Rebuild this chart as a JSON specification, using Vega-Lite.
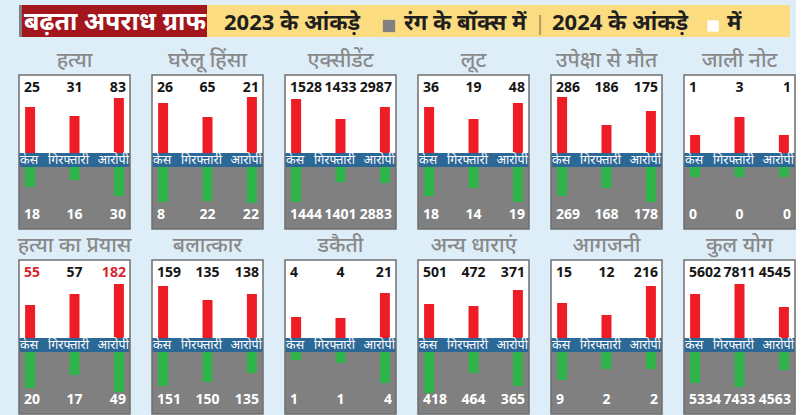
{
  "$schema": "https://vega.github.io/schema/vega-lite/v6.json",
  "background": "#ddeef9",
  "padding": {"left": 17, "top": 5, "right": 0, "bottom": 0},
  "spacing": 13,
  "datasets": {
    "crime": [
      {"crime": "हत्या", "metric": "केस", "y2024": 25, "y2023": 18, "bar2024": 46, "bar2023": 20},
      {"crime": "हत्या", "metric": "गिरफ्तारी", "y2024": 31, "y2023": 16, "bar2024": 37, "bar2023": 13},
      {"crime": "हत्या", "metric": "आरोपी", "y2024": 83, "y2023": 30, "bar2024": 55, "bar2023": 29},
      {"crime": "घरेलू हिंसा", "metric": "केस", "y2024": 26, "y2023": 8, "bar2024": 50, "bar2023": 35},
      {"crime": "घरेलू हिंसा", "metric": "गिरफ्तारी", "y2024": 65, "y2023": 22, "bar2024": 36, "bar2023": 34},
      {"crime": "घरेलू हिंसा", "metric": "आरोपी", "y2024": 21, "y2023": 22, "bar2024": 56, "bar2023": 36},
      {"crime": "एक्सीडेंट", "metric": "केस", "y2024": 1528, "y2023": 1444, "bar2024": 54, "bar2023": 35},
      {"crime": "एक्सीडेंट", "metric": "गिरफ्तारी", "y2024": 1433, "y2023": 1401, "bar2024": 34, "bar2023": 15},
      {"crime": "एक्सीडेंट", "metric": "आरोपी", "y2024": 2987, "y2023": 2883, "bar2024": 46, "bar2023": 16},
      {"crime": "लूट", "metric": "केस", "y2024": 36, "y2023": 18, "bar2024": 46, "bar2023": 29},
      {"crime": "लूट", "metric": "गिरफ्तारी", "y2024": 19, "y2023": 14, "bar2024": 34, "bar2023": 21},
      {"crime": "लूट", "metric": "आरोपी", "y2024": 48, "y2023": 19, "bar2024": 50, "bar2023": 35},
      {"crime": "उपेक्षा से मौत", "metric": "केस", "y2024": 286, "y2023": 269, "bar2024": 56, "bar2023": 29},
      {"crime": "उपेक्षा से मौत", "metric": "गिरफ्तारी", "y2024": 186, "y2023": 168, "bar2024": 28, "bar2023": 21},
      {"crime": "उपेक्षा से मौत", "metric": "आरोपी", "y2024": 175, "y2023": 178, "bar2024": 42, "bar2023": 35},
      {"crime": "जाली नोट", "metric": "केस", "y2024": 1, "y2023": 0, "bar2024": 18, "bar2023": 10},
      {"crime": "जाली नोट", "metric": "गिरफ्तारी", "y2024": 3, "y2023": 0, "bar2024": 36, "bar2023": 10},
      {"crime": "जाली नोट", "metric": "आरोपी", "y2024": 1, "y2023": 0, "bar2024": 18, "bar2023": 10},
      {"crime": "हत्या का प्रयास", "metric": "केस", "y2024": 55, "y2023": 20, "bar2024": 33, "bar2023": 36},
      {"crime": "हत्या का प्रयास", "metric": "गिरफ्तारी", "y2024": 57, "y2023": 17, "bar2024": 44, "bar2023": 23},
      {"crime": "हत्या का प्रयास", "metric": "आरोपी", "y2024": 182, "y2023": 49, "bar2024": 54, "bar2023": 40},
      {"crime": "बलात्कार", "metric": "केस", "y2024": 159, "y2023": 151, "bar2024": 52, "bar2023": 34},
      {"crime": "बलात्कार", "metric": "गिरफ्तारी", "y2024": 135, "y2023": 150, "bar2024": 38, "bar2023": 30},
      {"crime": "बलात्कार", "metric": "आरोपी", "y2024": 138, "y2023": 135, "bar2024": 44, "bar2023": 21},
      {"crime": "डकैती", "metric": "केस", "y2024": 4, "y2023": 1, "bar2024": 21, "bar2023": 8},
      {"crime": "डकैती", "metric": "गिरफ्तारी", "y2024": 4, "y2023": 1, "bar2024": 20, "bar2023": 11},
      {"crime": "डकैती", "metric": "आरोपी", "y2024": 21, "y2023": 4, "bar2024": 45, "bar2023": 31},
      {"crime": "अन्य धाराएं", "metric": "केस", "y2024": 501, "y2023": 418, "bar2024": 34, "bar2023": 41},
      {"crime": "अन्य धाराएं", "metric": "गिरफ्तारी", "y2024": 472, "y2023": 464, "bar2024": 32, "bar2023": 21},
      {"crime": "अन्य धाराएं", "metric": "आरोपी", "y2024": 371, "y2023": 365, "bar2024": 48, "bar2023": 34},
      {"crime": "आगजनी", "metric": "केस", "y2024": 15, "y2023": 9, "bar2024": 35, "bar2023": 28},
      {"crime": "आगजनी", "metric": "गिरफ्तारी", "y2024": 12, "y2023": 2, "bar2024": 23, "bar2023": 17},
      {"crime": "आगजनी", "metric": "आरोपी", "y2024": 216, "y2023": 2, "bar2024": 52, "bar2023": 17},
      {"crime": "कुल योग", "metric": "केस", "y2024": 5602, "y2023": 5334, "bar2024": 44, "bar2023": 31},
      {"crime": "कुल योग", "metric": "गिरफ्तारी", "y2024": 7811, "y2023": 7433, "bar2024": 54, "bar2023": 35},
      {"crime": "कुल योग", "metric": "आरोपी", "y2024": 4545, "y2023": 4563, "bar2024": 31, "bar2023": 18}
    ]
  },
  "vconcat": [
    {
      "width": 771,
      "height": 32,
      "data": {"values": [{"header": "legend"}]},
      "layer": [
        {"mark": {"type": "rect", "fill": "#a3161d"}, "encoding": {"x": {"datum": 3, "type": "quantitative", "scale": {"domain": [0, 771]}, "axis": null}, "x2": {"datum": 188}}},
        {"mark": {"type": "rect", "fill": "#fbdc80"}, "encoding": {"x": {"datum": 188, "type": "quantitative", "scale": {"domain": [0, 771]}, "axis": null}, "x2": {"datum": 771}}},
        {"mark": {"type": "text", "text": "बढ़ता अपराध ग्राफ", "color": "#ffffff", "fontSize": 25, "fontWeight": "bold", "align": "center", "baseline": "middle"},
         "encoding": {"x": {"datum": 96, "type": "quantitative", "scale": {"domain": [0, 771]}, "axis": null}, "y": {"datum": 17, "type": "quantitative", "scale": {"domain": [0, 32], "reverse": true}, "axis": null}}},
        {"mark": {"type": "text", "text": "2023 के आंकड़े", "color": "#1f1f1f", "fontSize": 22, "fontWeight": "bold", "align": "left", "baseline": "middle"},
         "encoding": {"x": {"datum": 205, "type": "quantitative", "scale": {"domain": [0, 771]}, "axis": null}, "y": {"datum": 18, "type": "quantitative", "scale": {"domain": [0, 32], "reverse": true}, "axis": null}}},
        {"mark": {"type": "square", "fill": "#808080", "opacity": 1, "size": 150},
         "encoding": {"x": {"datum": 370, "type": "quantitative", "scale": {"domain": [0, 771]}, "axis": null}, "y": {"datum": 21, "type": "quantitative", "scale": {"domain": [0, 32], "reverse": true}, "axis": null}}},
        {"mark": {"type": "text", "text": "रंग के बॉक्स में", "color": "#1f1f1f", "fontSize": 22, "fontWeight": "bold", "align": "left", "baseline": "middle"},
         "encoding": {"x": {"datum": 385, "type": "quantitative", "scale": {"domain": [0, 771]}, "axis": null}, "y": {"datum": 18, "type": "quantitative", "scale": {"domain": [0, 32], "reverse": true}, "axis": null}}},
        {"mark": {"type": "text", "text": "|", "color": "#a08a5a", "fontSize": 20, "align": "center", "baseline": "middle"},
         "encoding": {"x": {"datum": 521, "type": "quantitative", "scale": {"domain": [0, 771]}, "axis": null}, "y": {"datum": 19, "type": "quantitative", "scale": {"domain": [0, 32], "reverse": true}, "axis": null}}},
        {"mark": {"type": "text", "text": "2024 के आंकड़े", "color": "#1f1f1f", "fontSize": 22, "fontWeight": "bold", "align": "left", "baseline": "middle"},
         "encoding": {"x": {"datum": 533, "type": "quantitative", "scale": {"domain": [0, 771]}, "axis": null}, "y": {"datum": 18, "type": "quantitative", "scale": {"domain": [0, 32], "reverse": true}, "axis": null}}},
        {"mark": {"type": "square", "fill": "#ffffff", "opacity": 1, "size": 130},
         "encoding": {"x": {"datum": 694, "type": "quantitative", "scale": {"domain": [0, 771]}, "axis": null}, "y": {"datum": 21, "type": "quantitative", "scale": {"domain": [0, 32], "reverse": true}, "axis": null}}},
        {"mark": {"type": "text", "text": "में", "color": "#1f1f1f", "fontSize": 22, "fontWeight": "bold", "align": "left", "baseline": "middle"},
         "encoding": {"x": {"datum": 708, "type": "quantitative", "scale": {"domain": [0, 771]}, "axis": null}, "y": {"datum": 18, "type": "quantitative", "scale": {"domain": [0, 32], "reverse": true}, "axis": null}}}
      ]
    },
    {
      "data": {"name": "crime"},
      "facet": {
        "field": "crime", "type": "nominal",
        "sort": ["हत्या", "घरेलू हिंसा", "एक्सीडेंट", "लूट", "उपेक्षा से मौत", "जाली नोट", "हत्या का प्रयास", "बलात्कार", "डकैती", "अन्य धाराएं", "आगजनी", "कुल योग"],
        "header": {"title": null, "labelFontSize": 21, "labelFontWeight": 500, "labelColor": "#898989", "labelPadding": 3}
      },
      "columns": 6,
      "spacing": {"column": 19, "row": 5},
      "spec": {
        "width": 111,
        "height": 154,
        "encoding": {
          "x": {"field": "metric", "type": "nominal", "sort": ["केस", "गिरफ्तारी", "आरोपी"], "scale": {"type": "point", "padding": 0.25}, "axis": null}
        },
        "layer": [
          {"transform": [{"filter": "datum.metric === 'केस'"}],
           "mark": {"type": "rect", "fill": "#ffffff"},
           "encoding": {"x": null, "y": {"datum": 78, "type": "quantitative", "scale": {"domain": [-76, 78]}, "axis": null}, "y2": {"datum": 0}}},
          {"transform": [{"filter": "datum.metric === 'केस'"}],
           "mark": {"type": "rect", "fill": "#2c6896"},
           "encoding": {"x": null, "y": {"datum": 0, "type": "quantitative", "scale": {"domain": [-76, 78]}, "axis": null}, "y2": {"datum": -14}}},
          {"mark": {"type": "bar", "width": 10, "fill": "#ee1d25"},
           "encoding": {"y": {"field": "bar2024", "type": "quantitative", "scale": {"domain": [-76, 78]}, "axis": null}, "y2": {"datum": 0}}},
          {"mark": {"type": "bar", "width": 10, "fill": "#2fb44a"},
           "encoding": {"y": {"field": "bar2023", "type": "quantitative", "scale": {"domain": [-92, 62], "reverse": true}, "axis": null}, "y2": {"datum": 0}}},
          {"transform": [{"filter": "datum.metric === 'केस'"}],
           "mark": {"type": "text", "align": "left", "dx": -6, "baseline": "middle", "fontSize": 14, "fontWeight": "bold"},
           "encoding": {"y": {"datum": 65, "type": "quantitative", "scale": {"domain": [-76, 78]}, "axis": null}, "text": {"field": "y2024", "type": "quantitative", "format": "d"},
             "color": {"condition": {"test": "datum.crime === 'हत्या का प्रयास'", "value": "#d6262d"}, "value": "#151515"}}},
          {"transform": [{"filter": "datum.metric === 'गिरफ्तारी'"}],
           "mark": {"type": "text", "align": "center", "baseline": "middle", "fontSize": 14, "fontWeight": "bold"},
           "encoding": {"y": {"datum": 65, "type": "quantitative", "scale": {"domain": [-76, 78]}, "axis": null}, "text": {"field": "y2024", "type": "quantitative", "format": "d"}, "color": {"value": "#151515"}}},
          {"transform": [{"filter": "datum.metric === 'आरोपी'"}],
           "mark": {"type": "text", "align": "right", "dx": 7, "baseline": "middle", "fontSize": 14, "fontWeight": "bold"},
           "encoding": {"y": {"datum": 65, "type": "quantitative", "scale": {"domain": [-76, 78]}, "axis": null}, "text": {"field": "y2024", "type": "quantitative", "format": "d"},
             "color": {"condition": {"test": "datum.crime === 'हत्या का प्रयास'", "value": "#d6262d"}, "value": "#151515"}}},
          {"transform": [{"filter": "datum.metric === 'केस'"}],
           "mark": {"type": "text", "align": "left", "dx": -6, "baseline": "middle", "fontSize": 14, "fontWeight": "bold", "color": "#ffffff"},
           "encoding": {"y": {"datum": -62, "type": "quantitative", "scale": {"domain": [-76, 78]}, "axis": null}, "text": {"field": "y2023", "type": "quantitative", "format": "d"}}},
          {"transform": [{"filter": "datum.metric === 'गिरफ्तारी'"}],
           "mark": {"type": "text", "align": "center", "baseline": "middle", "fontSize": 14, "fontWeight": "bold", "color": "#ffffff"},
           "encoding": {"y": {"datum": -62, "type": "quantitative", "scale": {"domain": [-76, 78]}, "axis": null}, "text": {"field": "y2023", "type": "quantitative", "format": "d"}}},
          {"transform": [{"filter": "datum.metric === 'आरोपी'"}],
           "mark": {"type": "text", "align": "right", "dx": 7, "baseline": "middle", "fontSize": 14, "fontWeight": "bold", "color": "#ffffff"},
           "encoding": {"y": {"datum": -62, "type": "quantitative", "scale": {"domain": [-76, 78]}, "axis": null}, "text": {"field": "y2023", "type": "quantitative", "format": "d"}}},
          {"transform": [{"filter": "datum.metric === 'केस'"}],
           "mark": {"type": "text", "align": "left", "dx": -10, "baseline": "middle", "fontSize": 12.5, "color": "#ffffff"},
           "encoding": {"y": {"datum": -7, "type": "quantitative", "scale": {"domain": [-76, 78]}, "axis": null}, "text": {"field": "metric", "type": "nominal"}}},
          {"transform": [{"filter": "datum.metric === 'गिरफ्तारी'"}],
           "mark": {"type": "text", "align": "center", "dx": -6, "baseline": "middle", "fontSize": 12.5, "color": "#ffffff"},
           "encoding": {"y": {"datum": -7, "type": "quantitative", "scale": {"domain": [-76, 78]}, "axis": null}, "text": {"field": "metric", "type": "nominal"}}},
          {"transform": [{"filter": "datum.metric === 'आरोपी'"}],
           "mark": {"type": "text", "align": "right", "dx": 10, "baseline": "middle", "fontSize": 12.5, "color": "#ffffff"},
           "encoding": {"y": {"datum": -7, "type": "quantitative", "scale": {"domain": [-76, 78]}, "axis": null}, "text": {"field": "metric", "type": "nominal"}}},
          {"transform": [{"filter": "datum.metric === 'केस'"}],
           "mark": {"type": "rect", "fill": null, "fillOpacity": 0, "stroke": "#6f6f6f", "strokeWidth": 1.5},
           "encoding": {"x": null, "y": {"datum": 78, "type": "quantitative", "scale": {"domain": [-76, 78]}, "axis": null}, "y2": {"datum": -76}}}
        ],
        "resolve": {"scale": {"y": "independent"}}
      }
    }
  ],
  "config": {
    "font": "Noto Sans",
    "view": {"fill": "#808080", "stroke": null},
    "concat": {"spacing": 13}
  }
}
